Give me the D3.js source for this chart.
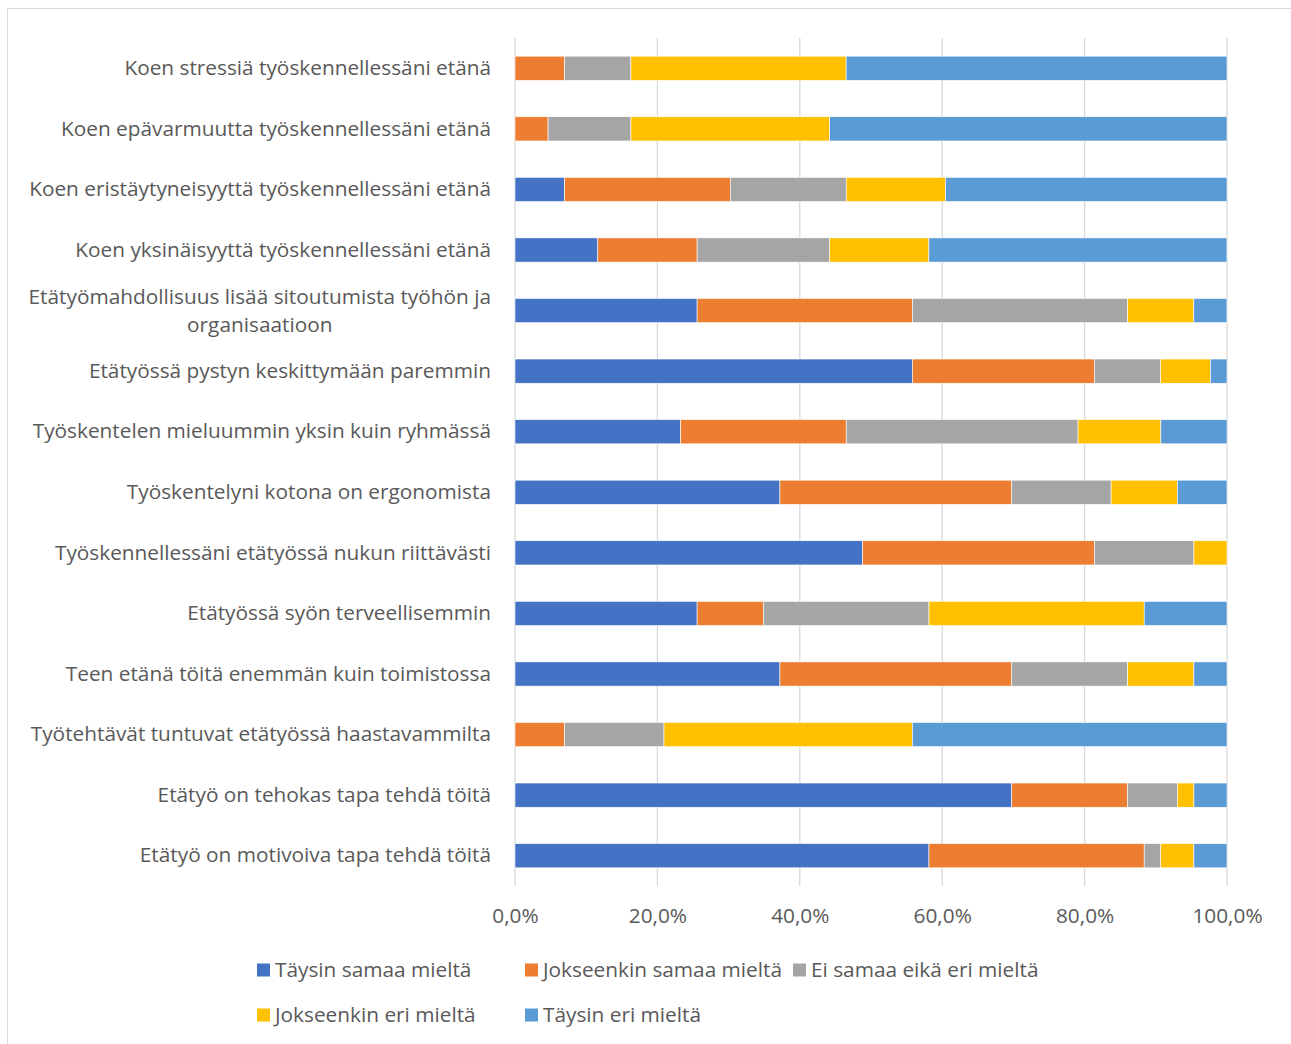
<!DOCTYPE html>
<html>
<head>
<meta charset="utf-8">
<script src="https://cdn.jsdelivr.net/npm/d3@7"></script>
<style>
  html, body { margin: 0; padding: 0; background: #fff; }
  svg text { font-family: "Open Sans", Lato, sans-serif; fill: #595959; }
</style>
</head>
<body>
<svg id="chart" width="1291" height="1044"></svg>
<script>
// Survey statements (top to bottom) and answer shares in percent
const categories = [
  "Koen stressiä työskennellessäni etänä",
  "Koen epävarmuutta työskennellessäni etänä",
  "Koen eristäytyneisyyttä työskennellessäni etänä",
  "Koen yksinäisyyttä työskennellessäni etänä",
  "Etätyömahdollisuus lisää sitoutumista työhön ja|organisaatioon",
  "Etätyössä pystyn keskittymään paremmin",
  "Työskentelen mieluummin yksin kuin ryhmässä",
  "Työskentelyni kotona on ergonomista",
  "Työskennellessäni etätyössä nukun riittävästi",
  "Etätyössä syön terveellisemmin",
  "Teen etänä töitä enemmän kuin toimistossa",
  "Työtehtävät tuntuvat etätyössä haastavammilta",
  "Etätyö on tehokas tapa tehdä töitä",
  "Etätyö on motivoiva tapa tehdä töitä"
];
const seriesNames = [
  "Täysin samaa mieltä",
  "Jokseenkin samaa mieltä",
  "Ei samaa eikä eri mieltä",
  "Jokseenkin eri mieltä",
  "Täysin eri mieltä"
];
const taysinSamaa     = [0, 0, 6.98, 11.63, 25.58, 55.81, 23.26, 37.21, 48.84, 25.58, 37.21, 0, 69.77, 58.14];
const jokseenkinSamaa = [6.98, 4.65, 23.26, 13.95, 30.23, 25.58, 23.26, 32.56, 32.56, 9.30, 32.56, 6.98, 16.28, 30.23];
const eiSamaaEikaEri  = [9.30, 11.63, 16.28, 18.60, 30.23, 9.30, 32.56, 13.95, 13.95, 23.26, 16.28, 13.95, 6.98, 2.33];
const jokseenkinEri   = [30.23, 27.91, 13.95, 13.95, 9.30, 6.98, 11.63, 9.30, 4.65, 30.23, 9.30, 34.88, 2.33, 4.65];
const taysinEri       = [53.49, 55.81, 39.53, 41.86, 4.65, 2.33, 9.30, 6.98, 0, 11.63, 4.65, 44.19, 4.65, 4.65];
const tickValues = [0, 20, 40, 60, 80, 100];
const colors = ["#4472C4", "#ED7D31", "#A5A5A5", "#FFC000", "#5B9BD5"];

const seriesValues = [taysinSamaa, jokseenkinSamaa, eiSamaaEikaEri, jokseenkinEri, taysinEri];
const rows = categories.map((c, i) => {
  const r = { category: c };
  seriesNames.forEach((s, k) => { r[s] = seriesValues[k][i]; });
  return r;
});

const FONT = 20.8;
const svg = d3.select("#chart");

// chart frame
svg.append("rect")
  .attr("x", 7.5).attr("y", 8.5)
  .attr("width", 1300).attr("height", 1060)
  .attr("fill", "none").attr("stroke", "#D9D9D9").attr("stroke-width", 1);

const plot = { left: 515, right: 1227, top: 38, bottom: 886 };

const x = d3.scaleLinear().domain([0, 100]).range([plot.left, plot.right]);
const y = d3.scaleBand().domain(categories)
  .range([plot.top, plot.bottom]).paddingInner(0.6).paddingOuter(0.3);

// vertical gridlines
svg.append("g").selectAll("line").data(tickValues).join("line")
  .attr("x1", d => x(d)).attr("x2", d => x(d))
  .attr("y1", plot.top).attr("y2", plot.bottom)
  .attr("stroke", "#D9D9D9").attr("stroke-width", 1.3);

// stacked bars
const stack = d3.stack().keys(seriesNames);
const layers = stack(rows);
svg.append("g").selectAll("g").data(layers).join("g")
  .attr("fill", (d, i) => colors[i])
  .selectAll("rect").data(d => d).join("rect")
  .attr("x", d => x(d[0]))
  .attr("y", d => y(d.data.category))
  .attr("width", d => Math.max(0, x(d[1]) - x(d[0])))
  .attr("height", y.bandwidth())
  .attr("stroke", "#fff").attr("stroke-width", 0.6);

// category labels
const labelG = svg.append("g").attr("font-size", FONT);
categories.forEach(c => {
  const lines = c.split("|");
  const cy = y(c) + y.bandwidth() / 2;
  if (lines.length === 1) {
    labelG.append("text")
      .attr("x", 491).attr("y", cy - 0.5).attr("dy", "0.35em")
      .attr("text-anchor", "end").text(lines[0]);
  } else {
    const t = labelG.append("text").attr("text-anchor", "middle");
    const first = t.append("tspan").attr("x", 0).attr("y", cy - 14).attr("dy", "0.35em").text(lines[0]);
    const w = first.node().getComputedTextLength();
    const cx = 491 - w / 2;
    first.attr("x", cx);
    t.append("tspan").attr("x", cx).attr("y", cy + 14).attr("dy", "0.35em").text(lines[1]);
  }
});

// x axis tick labels
const fmt = v => d3.format(".1f")(v).replace(".", ",") + "%";
const xAxis = d3.axisBottom(x).tickValues(tickValues).tickFormat(fmt).tickSize(0).tickPadding(0);
const axisG = svg.append("g").attr("transform", `translate(0,${plot.bottom + 30})`).call(xAxis);
axisG.select(".domain").remove();
axisG.selectAll("text")
  .attr("font-size", FONT)
  .attr("font-family", "'Open Sans', Lato, sans-serif")
  .attr("fill", "#595959")
  .attr("dy", "0.35em").attr("y", 0);

// legend
const legendPos = [[257, 970], [525, 970], [793, 970], [257, 1015], [525, 1015]];
const legend = svg.append("g");
seriesNames.forEach((s, i) => {
  const [lx, ly] = legendPos[i];
  legend.append("rect").attr("x", lx).attr("y", ly - 6.5).attr("width", 13).attr("height", 13).attr("fill", colors[i]);
  legend.append("text").attr("x", lx + 18).attr("y", ly).attr("dy", "0.35em")
    .attr("font-size", FONT).text(s);
});
</script>
</body>
</html>
